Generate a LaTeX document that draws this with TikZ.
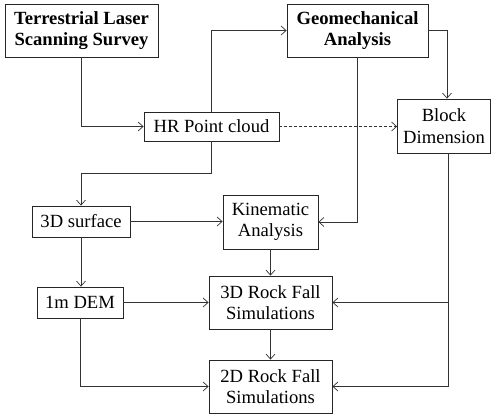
\documentclass[tikz,border=0pt]{standalone}
\usepackage{fontspec}
\setmainfont{Liberation Serif}
\usetikzlibrary{arrows.meta}
\begin{document}
\begin{tikzpicture}[x=1pt,y=-1pt,
  box/.style={draw=black!85,line width=0.8pt,inner sep=0pt,align=center,
    font=\fontsize{18.6}{21.5}\selectfont,text=black},
  bbox/.style={box,font=\fontsize{18.6}{21.5}\selectfont\bfseries},
  arr/.style={draw=black!80,line width=0.7pt,-{Straight Barb[length=5pt,width=9pt]}},
  dasharr/.style={arr,dash pattern=on 3pt off 2pt}]
\useasboundingbox (0,0) rectangle (492,415);
\node[bbox,minimum width=153pt,minimum height=53pt] (tls) at (81.5,30.5) {Terrestrial Laser\\Scanning Survey};
\node[bbox,minimum width=141pt,minimum height=53pt] (geo) at (357.5,30.5) {Geomechanical\\Analysis};
\node[box,minimum width=135pt,minimum height=29pt] (hr) at (211.5,126.5) {HR Point cloud};
\node[box,minimum width=93pt,minimum height=54pt] (blk) at (444,126) {Block\\Dimension};
\node[box,minimum width=98pt,minimum height=31pt] (surf) at (81,221.5) {3D surface};
\node[box,minimum width=86pt,minimum height=31pt] (dem) at (80,302.5) {1m DEM};
\node[box,minimum width=95pt,minimum height=54pt] (kin) at (270.5,222) {Kinematic\\Analysis};
\node[box,minimum width=123pt,minimum height=53pt] (rf3) at (270.5,302.5) {3D Rock Fall\\Simulations};
\node[box,minimum width=123pt,minimum height=53pt] (rf2) at (270.5,386.5) {2D Rock Fall\\Simulations};
\path ([xshift=3pt]blk.north) coordinate (bn);
\path ([xshift=4pt]blk.south) coordinate (bs);
\coordinate (hrd) at (211.5,173);
\draw[arr] (tls.south) |- (hr.west);
\draw[arr] (hr.north) |- (geo.west);
\draw[arr] (hr.south) -- (hrd) -| (surf.north);
\draw[dasharr] (hr.east) -- (hr.east -| blk.west);
\draw[arr] (geo.east) -| (bn);
\draw[arr] (geo.south) |- (kin.east);
\draw[arr] (surf.east) -- (surf.east -| kin.west);
\draw[arr] (surf.south) -- (surf.south |- dem.north);
\draw[arr] (dem.east) -- (rf3.west);
\draw[arr] (dem.south) |- (rf2.west);
\draw[arr] (kin.south) -- (rf3.north);
\draw[arr] (rf3.south) -- (rf2.north);
\draw[arr] (bs) |- (rf2.east);
\draw[arr] (bs |- rf3.east) -- (rf3.east);
\end{tikzpicture}
\end{document}
